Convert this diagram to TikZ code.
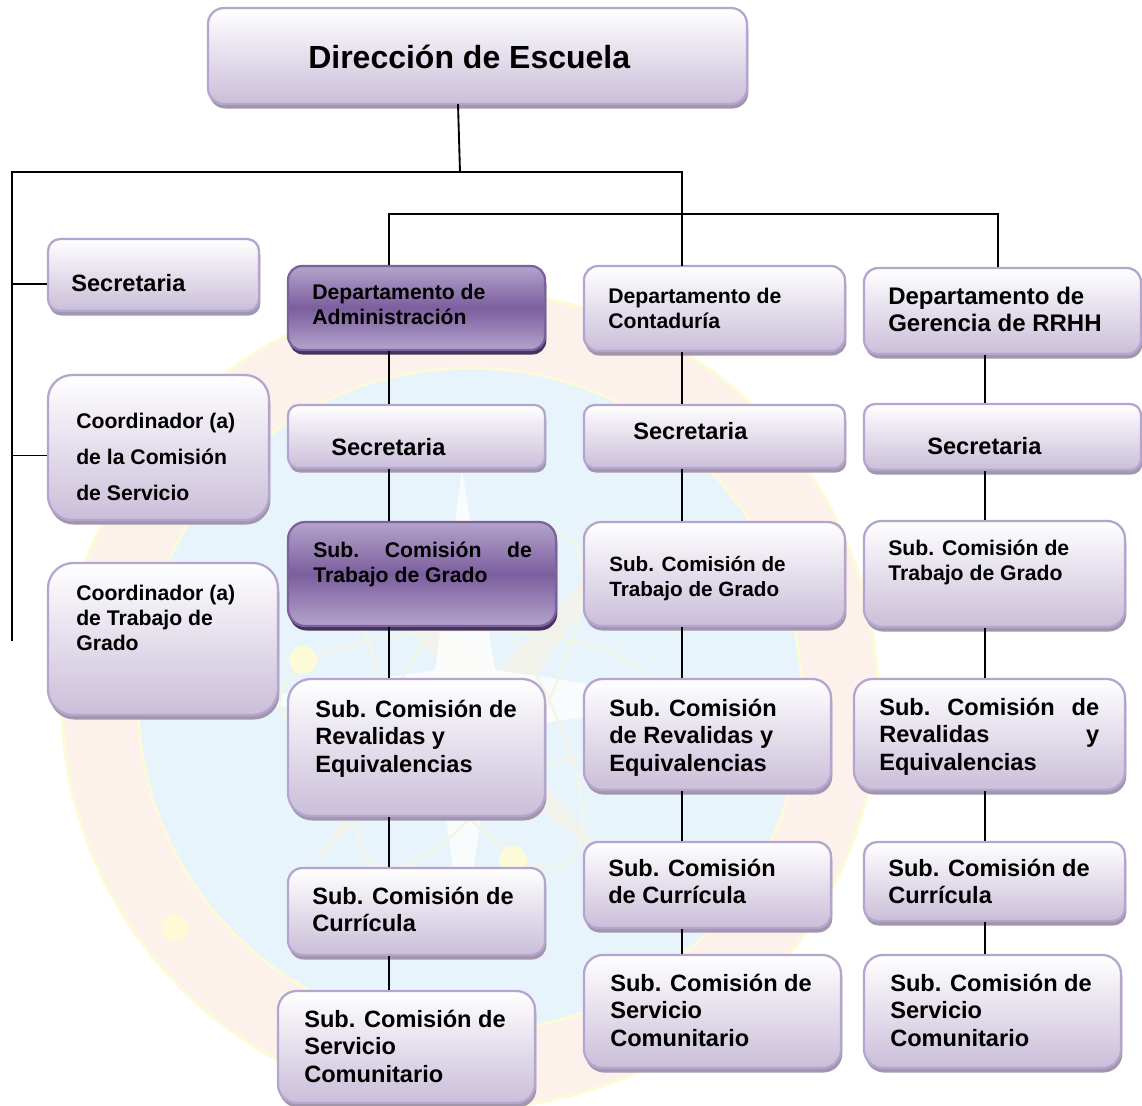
\documentclass[tikz,border=0pt]{standalone}
\usepackage{fontspec}
\setmainfont{Liberation Sans}
\usetikzlibrary{shadows,calc}
\definecolor{lightedge}{HTML}{B5A5CE}
\definecolor{lightbot}{HTML}{CABED9}
\definecolor{lightshadow}{HTML}{A296AE}
\definecolor{darkedge}{HTML}{7D619E}
\definecolor{darktop}{HTML}{B3A4CB}
\definecolor{darkmid}{HTML}{7C5E9E}
\definecolor{darkshadow}{HTML}{44345C}
\definecolor{wmblue}{HTML}{E8F4FB}
\definecolor{wmring}{HTML}{FDF1EC}
\definecolor{wmgold}{HTML}{FDFAD8}
\definecolor{wmorbit}{HTML}{F3F6E6}
\definecolor{wmray}{HTML}{F1F2EC}
\tikzset{
  x=0.75pt,y=-0.75pt,
  boxbase/.style={inner sep=0pt,line width=1.7pt},
  lightbox/.style={boxbase,draw=lightedge,top color=white,bottom color=lightbot,
    general shadow={shadow xshift=1pt,shadow yshift=-3.4pt,fill=lightshadow}},
  darkbox/.style={boxbase,draw=darkedge,top color=darktop,bottom color=darktop,middle color=darkmid,
    general shadow={shadow xshift=1pt,shadow yshift=-3.4pt,fill=darkshadow}},
  lab/.style={anchor=north west,inner sep=0pt,align=left,font=\bfseries\fontsize{17.7}{20.5}\selectfont},
  labsm/.style={lab,font=\bfseries\fontsize{15.9}{18.6}\selectfont},
  labmd/.style={lab,font=\bfseries\fontsize{15.5}{18.6}\selectfont},
  link/.style={line width=1.4pt,black},
  trunk/.style={line width=1.6pt,black,line cap=rect}
}
\newcommand{\orgbox}[6]{%
  \pgfmathsetmacro{\cxx}{(#3+#5)/2}%
  \pgfmathsetmacro{\cyy}{(#4+#6)/2}%
  \pgfmathsetmacro{\www}{(#5-#3)*0.75}%
  \pgfmathsetmacro{\hhh}{(#6-#4)*0.75}%
  \pgfmathsetmacro{\rrr}{(#6-#4)*0.75*0.1667}%
  \node[#2,minimum width=\www pt,minimum height=\hhh pt,rounded corners=\rrr pt] (#1) at (\cxx,\cyy) {};%
}
\begin{document}
\begin{tikzpicture}
\useasboundingbox (0,0) rectangle (1142,1106);
\clip (0,0) rectangle (1142,1106);
% watermark
\fill[wmring] (470,700) circle[radius=408];
\draw[wmgold,line width=2.5pt] (470,700) circle[radius=408];
\fill[wmblue] (470,700) circle[radius=332];
\draw[wmgold,line width=2pt] (470,700) circle[radius=332];
\fill[wmray] (470,700) -- (320,520) -- (500,670) -- cycle;
\fill[wmray] (470,700) -- (640,520) -- (500,730) -- cycle;
\fill[wmray] (470,700) -- (630,880) -- (440,730) -- cycle;
\fill[wmray] (470,700) -- (310,870) -- (440,670) -- cycle;
\fill[white,opacity=.75] (462,470) -- (495,670) -- (700,700) -- (495,730) -- (462,940) -- (435,730) -- (240,700) -- (435,670) -- cycle;
\draw[wmorbit,line width=2pt] (470,700) ellipse[x radius=190,y radius=70];
\draw[wmorbit,line width=2pt,rotate around={60:(470,700)}] (470,700) ellipse[x radius=190,y radius=70];
\draw[wmorbit,line width=2pt,rotate around={-60:(470,700)}] (470,700) ellipse[x radius=190,y radius=70];
\fill[wmgold] (303,660) circle[radius=14];
\fill[wmgold] (513,860) circle[radius=14];
\fill[wmgold] (175,928) circle[radius=14];
% boxes
\orgbox{dir}{lightbox}{208}{8}{747}{104}
\orgbox{lsec}{lightbox}{48}{239}{259}{311}
\orgbox{lcom}{lightbox}{48}{375}{269}{520}
\orgbox{ltra}{lightbox}{48}{563}{278}{715}
\orgbox{a1}{darkbox}{288}{266}{545}{350}
\orgbox{a2}{lightbox}{288}{405}{545}{468}
\orgbox{a3}{darkbox}{288}{522}{556}{626}
\orgbox{a4}{lightbox}{288}{679}{545}{816}
\orgbox{a5}{lightbox}{288}{868}{545}{955}
\orgbox{a6}{lightbox}{278}{991}{535}{1103}
\orgbox{b1}{lightbox}{584}{266}{845}{351}
\orgbox{b2}{lightbox}{584}{405}{845}{468}
\orgbox{b3}{lightbox}{584}{522}{845}{626}
\orgbox{b4}{lightbox}{584}{679}{831}{790}
\orgbox{b5}{lightbox}{584}{842}{831}{928}
\orgbox{b6}{lightbox}{584}{955}{841}{1068}
\orgbox{c1}{lightbox}{864}{268}{1141}{354}
\orgbox{c2}{lightbox}{864}{404}{1141}{470}
\orgbox{c3}{lightbox}{864}{521}{1125}{627}
\orgbox{c4}{lightbox}{854}{679}{1125}{790}
\orgbox{c5}{lightbox}{864}{842}{1125}{921}
\orgbox{c6}{lightbox}{864}{955}{1121}{1068}
% labels
\node[lab,font=\bfseries\fontsize{24}{28}\selectfont] (tdir) at (308,45) {Dirección de Escuela};
\node[lab] (t1) at (71,274) {Secretaria};
\node[labsm,font=\bfseries\fontsize{15.9}{27}\selectfont] (t2) at (76,413) {Coordinador (a)\\de la Comisión\\de Servicio};
\node[labsm] (t3) at (76,585) {Coordinador (a)\\de Trabajo de\\Grado};
\node[labsm] (ta1) at (312,284) {Departamento de\\Administración};
\node[lab] (ta2) at (331,438) {Secretaria};
\node[labsm] (ta3) at (313,542) {\makebox[164pt][s]{Sub.\hfill Comisión\hfill de}\\Trabajo de Grado};
\node[lab] (ta4) at (315,700) {Sub. Comisión de\\Revalidas y\\Equivalencias};
\node[lab] (ta5) at (312,887) {Sub. Comisión de\\Currícula};
\node[lab] (ta6) at (304,1010) {Sub. Comisión de\\Servicio\\Comunitario};
\node[labsm] (tb1) at (608,288) {Departamento de\\Contaduría};
\node[lab] (tb2) at (633,422) {Secretaria};
\node[labmd] (tb3) at (609,556) {Sub. Comisión de\\Trabajo de Grado};
\node[lab] (tb4) at (609,699) {Sub. Comisión\\de Revalidas y\\Equivalencias};
\node[lab] (tb5) at (608,859) {Sub. Comisión\\de Currícula};
\node[lab] (tb6) at (610,974) {Sub. Comisión de\\Servicio\\Comunitario};
\node[lab,font=\bfseries\fontsize{18}{20.5}\selectfont] (tc1) at (888,287) {Departamento de\\Gerencia de RRHH};
\node[lab] (tc2) at (927,437) {Secretaria};
\node[labsm] (tc3) at (888,540) {Sub. Comisión de\\Trabajo de Grado};
\node[lab] (tc4) at (879,698) {\makebox[165pt][s]{Sub.\hfill Comisión\hfill de}\\\makebox[165pt][s]{Revalidas\hfill y}\\Equivalencias};
\node[lab] (tc5) at (888,859) {Sub. Comisión de\\Currícula};
\node[lab] (tc6) at (890,974) {Sub. Comisión de\\Servicio\\Comunitario};
% connector anchors
\coordinate (jd) at (460,172);
\coordinate (jl) at (12,172);
\coordinate (jr) at (682,172);
\coordinate (end) at (12,640);
\coordinate (ja) at (389,214);
\coordinate (jc) at (998,214);
\coordinate (xa) at (389,0);
\coordinate (xb) at (682,0);
\coordinate (xc) at (985,0);
\coordinate (dirfoot) at (458,104);
\coordinate (sa) at ($(lsec.west)+(0,9)$);
\coordinate (sb) at ($(lcom.west)+(0,8)$);
% connectors
\draw[link] (dirfoot) -- (jd);
\draw[trunk] (end) -- (jl) -- (jr) -- (jr |- b1.north);
\draw[link] (sa -| jl) -- (sa);
\draw[link] (sb -| jl) -- (sb);
\draw[link] (ja |- a1.north) -- (ja) -- (jc) -- (jc |- c1.north);
\foreach \col/\n/\m in {a/1/2,a/2/3,a/3/4,a/4/5,a/5/6,b/1/2,b/2/3,b/3/4,b/4/5,b/5/6,c/1/2,c/2/3,c/3/4,c/4/5,c/5/6}
  \draw[link] (x\col |- \col\n.south) -- (x\col |- \col\m.north);
\end{tikzpicture}
\end{document}
